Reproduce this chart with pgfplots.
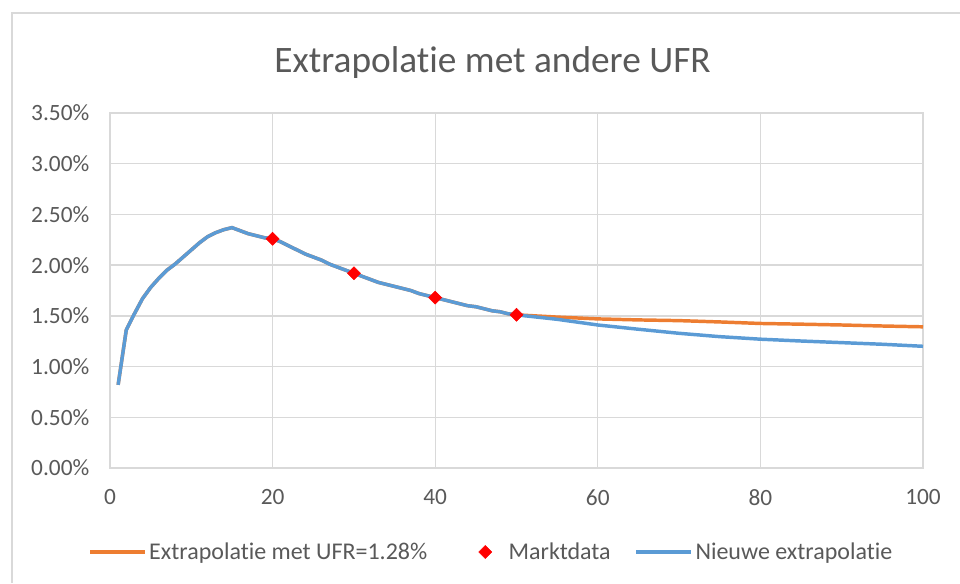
\documentclass[border=0pt]{standalone}
\usepackage{pgfplots}
\pgfplotsset{compat=1.18}
\usepackage{fontspec}
\setmainfont{Carlito}[Ligatures={NoCommon}]
\definecolor{xlorange}{HTML}{ED7D31}
\definecolor{xlblue}{HTML}{5B9BD5}
\definecolor{xlgrid}{HTML}{D9D9D9}
\definecolor{xltext}{HTML}{595959}
\pgfplotsset{
  xllinelegend/.style={legend image code/.code={\draw[##1] (0pt,0pt) -- (41pt,0pt);}},
  xlmarklegend/.style={legend image code/.code={\path[draw=none,fill=none] (0pt,0pt) -- (41pt,0pt);\path[draw=none,fill=none,mark=square*,mark options={fill=red,draw=red,rotate=45},mark size=3.45pt] plot coordinates {(25.5pt,0pt)};}},
}
\begin{document}
\begin{tikzpicture}
\useasboundingbox (0pt,0pt) rectangle (720pt,437.25pt);
\draw[xlgrid,line width=1pt] (9pt,0pt) -- (9pt,427.5pt) -- (720pt,427.5pt);
\node[anchor=base,text=xltext,font=\fontsize{28}{33}\selectfont] at (369.4pt,382.5pt) {Extrapolatie met andere UFR};
\begin{axis}[
  at={(82.5pt,86.25pt)}, anchor=south west,
  scale only axis, width=609.75pt, height=266.25pt,
  xmin=0, xmax=100, ymin=0, ymax=3.5,
  xtick={0,20,40,60,80,100},
  ytick={0,0.5,1,1.5,2,2.5,3,3.5},
  yticklabels={0.00\%,0.50\%,1.00\%,1.50\%,2.00\%,2.50\%,3.00\%,3.50\%},
  /pgf/number format/assume math mode=true,
  major tick length=0pt,
  grid=major,
  major grid style={xlgrid,line width=1pt},
  axis line style={xlgrid,line width=1pt},
  ticklabel style={text=xltext,font=\fontsize{17.5}{21}\selectfont},
  yticklabel style={xshift=-12pt},
  xticklabel style={yshift=-12.5pt},
  legend columns=3,
  legend style={at={(0.4695,-0.2366)},anchor=center,draw=none,fill=none,
    font=\fontsize{18}{21}\selectfont,text=xltext,
    nodes={inner xsep=2pt,inner ysep=2pt},
    /tikz/every even column/.append style={column sep=16pt},
    /tikz/every odd column/.append style={column sep=0pt}},
  legend cell align=left,
  xllinelegend,
]
\addlegendimage{xlorange,line width=2.6pt}
\addlegendentry{Extrapolatie met UFR=1.28\%}
\addlegendimage{only marks,xlmarklegend}
\addlegendentry{Marktdata}
\addlegendimage{xlblue,line width=2.6pt}
\addlegendentry{Nieuwe extrapolatie}
% orange series
\addplot[xlorange,line width=2.6pt,forget plot] coordinates {
(1,0.82)(2,1.36)(3,1.52)(4,1.67)(5,1.78)(6,1.87)(7,1.95)(8,2.01)(9,2.08)(10,2.15)
(11,2.22)(12,2.28)(13,2.32)(14,2.35)(15,2.37)(16,2.34)(17,2.31)(18,2.29)(19,2.27)(20,2.26)
(21,2.23)(22,2.19)(23,2.15)(24,2.11)(25,2.08)(26,2.05)(27,2.01)(28,1.98)(29,1.95)(30,1.92)
(31,1.89)(32,1.86)(33,1.83)(34,1.81)(35,1.79)(36,1.77)(37,1.75)(38,1.72)(39,1.70)(40,1.68)
(41,1.66)(42,1.64)(43,1.62)(44,1.60)(45,1.59)(46,1.57)(47,1.55)(48,1.54)(49,1.52)(50,1.51)
(55,1.488)(60,1.47)(65,1.46)(70,1.453)(75,1.44)(80,1.425)(85,1.418)(90,1.41)(95,1.40)(100,1.392)
};
% blue series
\addplot[xlblue,line width=2.6pt,forget plot] coordinates {
(1,0.82)(2,1.36)(3,1.52)(4,1.67)(5,1.78)(6,1.87)(7,1.95)(8,2.01)(9,2.08)(10,2.15)
(11,2.22)(12,2.28)(13,2.32)(14,2.35)(15,2.37)(16,2.34)(17,2.31)(18,2.29)(19,2.27)(20,2.26)
(21,2.23)(22,2.19)(23,2.15)(24,2.11)(25,2.08)(26,2.05)(27,2.01)(28,1.98)(29,1.95)(30,1.92)
(31,1.89)(32,1.86)(33,1.83)(34,1.81)(35,1.79)(36,1.77)(37,1.75)(38,1.72)(39,1.70)(40,1.68)
(41,1.66)(42,1.64)(43,1.62)(44,1.60)(45,1.59)(46,1.57)(47,1.55)(48,1.54)(49,1.52)(50,1.51)
(55,1.466)(60,1.41)(65,1.368)(70,1.328)(75,1.295)(80,1.27)(85,1.252)(90,1.236)(95,1.22)(100,1.20)
};
% market data
\addplot[only marks,mark=square*,mark size=3.45pt,mark options={fill=red,draw=red,rotate=45},forget plot] coordinates {
(20,2.26)(30,1.92)(40,1.68)(50,1.51)
};
\end{axis}
\end{tikzpicture}
\end{document}
